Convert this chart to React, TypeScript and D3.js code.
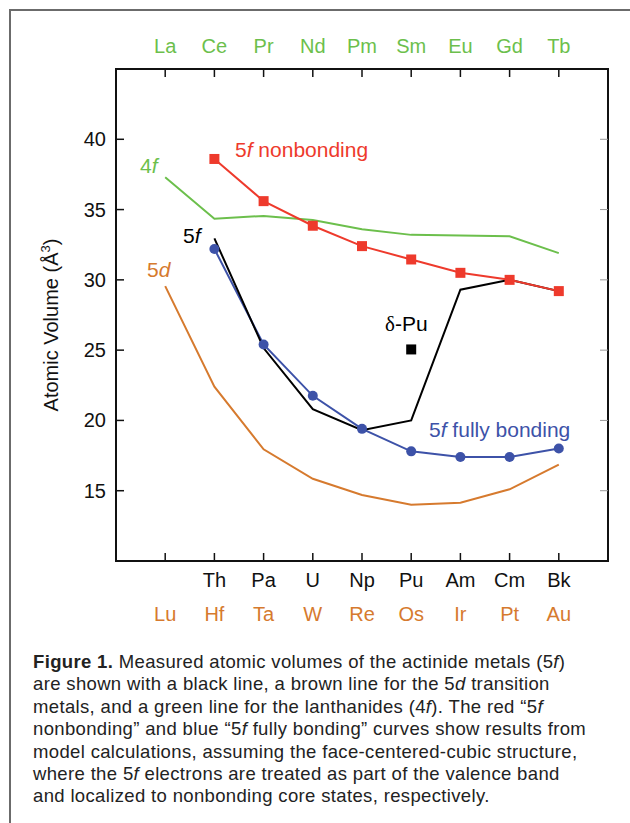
import React from "react";
import * as d3 from "d3";

// element labels, one per x slot
const lanthanides = ["La", "Ce", "Pr", "Nd", "Pm", "Sm", "Eu", "Gd", "Tb"];
const actinides = ["", "Th", "Pa", "U", "Np", "Pu", "Am", "Cm", "Bk"];
const transition5d = ["Lu", "Hf", "Ta", "W", "Re", "Os", "Ir", "Pt", "Au"];
const yTicks = [15, 20, 25, 30, 35, 40];

// atomic volumes (Å^3)
const vol4f = [37.3, 34.35, 34.55, 34.25, 33.6, 33.2, 33.15, 33.1, 31.9];
const vol5d = [29.55, 22.4, 17.95, 15.85, 14.7, 14.0, 14.15, 15.1, 16.85];
// actinides start at Th (slot 1)
const vol5f = [32.95, 25.15, 20.8, 19.3, 20.0, 29.3, 30.0, 29.2];
const vol5fNonbonding = [38.6, 35.6, 33.85, 32.4, 31.45, 30.5, 30.0, 29.2];
const vol5fBonding = [32.2, 25.4, 21.75, 19.4, 17.8, 17.4, 17.4, 18.0];
const deltaPu = { slot: 5, v: 25.05 };

const caption = [
  [["Figure 1.", "b"], [" Measured atomic volumes of the actinide metals (5", ""], ["f", "i"], [")", ""]],
  [["are shown with a black line, a brown line for the 5", ""], ["d", "i"], [" transition", ""]],
  [["metals, and a green line for the lanthanides (4", ""], ["f", "i"], ["). The red \u201c5", ""], ["f", "i"]],
  [["nonbonding\u201d and blue \u201c5", ""], ["f", "i"], [" fully bonding\u201d curves show results from", ""]],
  [["model calculations, assuming the face-centered-cubic structure,", ""]],
  [["where the 5", ""], ["f", "i"], [" electrons are treated as part of the valence band", ""]],
  [["and localized to nonbonding core states, respectively.", ""]],
];

const GREEN = "#6cbf4c";
const RED = "#ee3a2c";
const BLUE = "#3d52a8";
const ORANGE = "#d67a2e";
const FONT = "'Liberation Sans', Arial, Helvetica, sans-serif";

const App = () => {
  const left = 116, right = 608, top = 69, bottom = 561;
  const x = d3.scaleLinear().domain([-1, 9]).range([left, right]);
  const y = d3.scaleLinear().domain([10, 45]).range([bottom, top]);

  const line = d3
    .line<[number, number]>()
    .x((d) => x(d[0]))
    .y((d) => y(d[1]));

  const pts = (arr: number[], start: number) =>
    arr.map((v, i) => [i + start, v] as [number, number]);

  const slots = d3.range(9);

  return (
    <svg
      width={630}
      height={823}
      style={{ position: "absolute", left: 0, top: 0, background: "#fff" }}
      fontFamily={FONT}
    >
      {/* outer frame */}
      <path d="M10,823V10H630" fill="none" stroke="#6b6b6b" strokeWidth={2} />

      {/* plot box */}
      <rect x={left} y={top} width={right - left} height={bottom - top} fill="none" stroke="#111" strokeWidth={2} />

      {/* x ticks top & bottom */}
      {slots.map((i) => (
        <g key={"xt" + i} stroke="#111" strokeWidth={1.5}>
          <line x1={x(i)} x2={x(i)} y1={top} y2={top + 8} />
          <line x1={x(i)} x2={x(i)} y1={bottom} y2={bottom - 8} />
        </g>
      ))}
      {/* y ticks left & right */}
      {yTicks.map((t) => (
        <g key={"yt" + t}>
          <line x1={left} x2={left + 8} y1={y(t)} y2={y(t)} stroke="#111" strokeWidth={1.5} />
          <line x1={right} x2={right - 8} y1={y(t)} y2={y(t)} stroke="#999" strokeWidth={1} />
          <text x={106} y={y(t) + 7} textAnchor="end" fontSize={20} fill="#111">
            {t}
          </text>
        </g>
      ))}

      {/* element labels */}
      {slots.map((i) => (
        <g key={"lab" + i} fontSize={20} textAnchor="middle">
          <text x={x(i)} y={53} fill={GREEN}>{lanthanides[i]}</text>
          <text x={x(i)} y={587} fill="#111">{actinides[i]}</text>
          <text x={x(i)} y={621} fill={ORANGE}>{transition5d[i]}</text>
        </g>
      ))}

      {/* y axis title */}
      <text transform="translate(58,325) rotate(-90)" textAnchor="middle" fontSize={20} fill="#111">
        Atomic Volume (Å<tspan dy={-8} fontSize={13}>3</tspan><tspan dy={8}>)</tspan>
      </text>

      {/* series */}
      <path d={line(pts(vol4f, 0)) ?? ""} fill="none" stroke={GREEN} strokeWidth={2} />
      <path d={line(pts(vol5d, 0)) ?? ""} fill="none" stroke={ORANGE} strokeWidth={2} />
      <path d={line(pts(vol5fBonding, 1)) ?? ""} fill="none" stroke={BLUE} strokeWidth={2} />
      <path d={line(pts(vol5f, 1)) ?? ""} fill="none" stroke="#000" strokeWidth={2} />
      <path d={line(pts(vol5fNonbonding, 1)) ?? ""} fill="none" stroke={RED} strokeWidth={2} />

      {pts(vol5fBonding, 1).map((d, i) => (
        <circle key={"b" + i} cx={x(d[0])} cy={y(d[1])} r={5} fill={BLUE} />
      ))}
      {pts(vol5fNonbonding, 1).map((d, i) => (
        <rect key={"n" + i} x={x(d[0]) - 5} y={y(d[1]) - 5} width={10} height={10} fill={RED} />
      ))}
      <rect x={x(deltaPu.slot) - 5} y={y(deltaPu.v) - 5} width={10} height={10} fill="#000" />

      {/* series labels */}
      <text x={140} y={173} fontSize={21} fill={GREEN}>
        4<tspan fontStyle="italic">f</tspan>
      </text>
      <text x={235} y={157} fontSize={21} fill={RED}>
        5<tspan fontStyle="italic">f</tspan> nonbonding
      </text>
      <text x={183} y={243} fontSize={21} fill="#000">
        5<tspan fontStyle="italic">f</tspan>
      </text>
      <text x={147} y={277} fontSize={21} fill={ORANGE}>
        5<tspan fontStyle="italic">d</tspan>
      </text>
      <text x={385} y={331} fontSize={21} fill="#000">
        <tspan fontFamily="'Liberation Serif', 'Times New Roman', serif">δ</tspan>-Pu
      </text>
      <text x={429} y={437} fontSize={21} fill={BLUE}>
        5<tspan fontStyle="italic">f</tspan> fully bonding
      </text>

      {/* caption */}
      {caption.map((ln, li) => (
        <text key={"c" + li} x={33} y={668 + li * 22.4} fontSize={18.5} letterSpacing={0.35} fill="#222">
          {ln.map((seg, si) => (
            <tspan
              key={si}
              fontWeight={seg[1] === "b" ? "bold" : "normal"}
              fontStyle={seg[1] === "i" ? "italic" : "normal"}
            >
              {seg[0]}
            </tspan>
          ))}
        </text>
      ))}
    </svg>
  );
};

export default App;
